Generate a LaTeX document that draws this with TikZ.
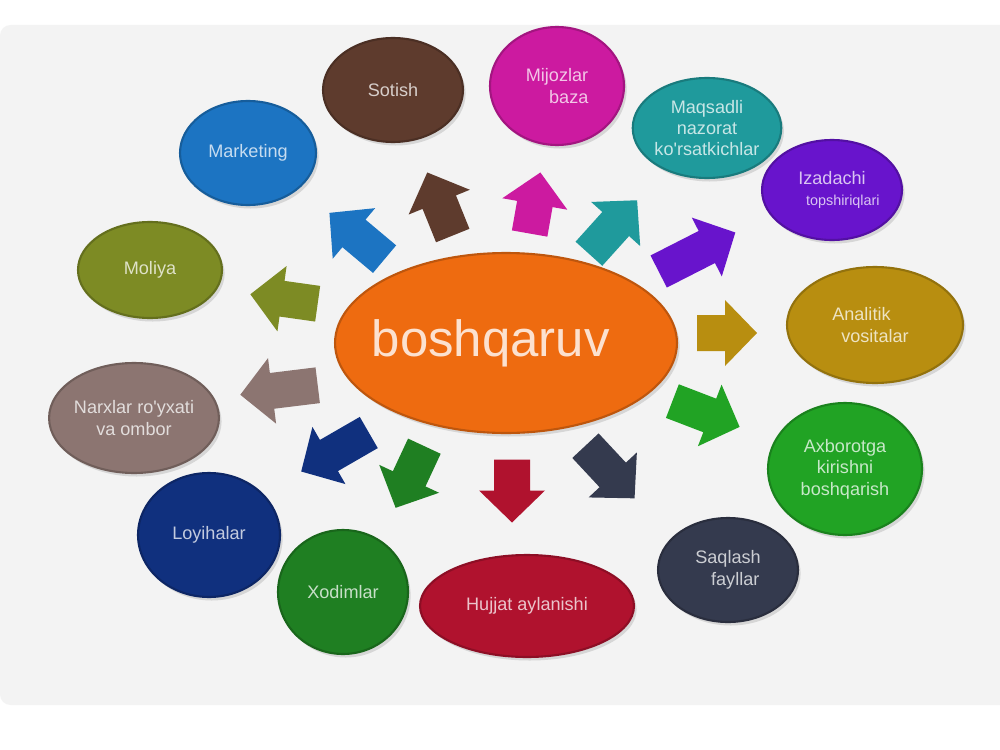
\documentclass[tikz,border=0pt]{standalone}
\usepackage{fontspec}
\setmainfont{Liberation Sans}
\usetikzlibrary{shapes.geometric,shadows}

\definecolor{bgcol}{HTML}{F3F3F3}
\definecolor{orng}{HTML}{EE6B10}
\definecolor{sotbrown}{HTML}{5E3B2D}
\definecolor{mijpink}{HTML}{CC1AA0}
\definecolor{mkblue}{HTML}{1C74C2}
\definecolor{maqteal}{HTML}{1F9A9C}
\definecolor{izpurple}{HTML}{6814CC}
\definecolor{angold}{HTML}{B88E10}
\definecolor{axgreen}{HTML}{21A324}
\definecolor{saqslate}{HTML}{343A4E}
\definecolor{hujred}{HTML}{B0122E}
\definecolor{xodgreen}{HTML}{1F7F22}
\definecolor{loynavy}{HTML}{10307E}
\definecolor{narxtaupe}{HTML}{8C7571}
\definecolor{mololive}{HTML}{7D8B24}

\tikzset{
  blob/.style={ellipse, fill=#1, draw=#1!80!black, line width=1.2pt,
    text=#1!25!white, align=center, inner sep=0pt,
    font=\fontsize{10.3}{12.2}\selectfont,
    drop shadow={opacity=0.25, shadow xshift=1.5pt, shadow yshift=-2pt}},
}

\begin{document}
\begin{tikzpicture}[x=0.02cm, y=-0.02cm]
\useasboundingbox (0,0) rectangle (1000,750);
\fill[white] (0,0) rectangle (1000,750);
\fill[bgcol, rounded corners=6pt] (0,25) rectangle (1030,705);
% arrows round the centre
\foreach \cx/\cy/\ang/\len/\col in {357/236/140/72/mkblue, 440/204/112/68/sotbrown,
    535/203/80/62/mijpink, 613/227/48/72/maqteal, 697/252/27/86/izpurple,
    727/333/0/60/angold, 706/414/-21/72/axgreen, 610/472/-47/72/saqslate,
    512/491/-90/63/hujred, 410/477/245/68/xodgreen, 335/452/210/78/loynavy,
    279/390/187/78/narxtaupe, 284/299/172/68/mololive}
  \fill[\col, shift={(\cx,\cy)}, rotate=\ang] ({-\len/2},-18) -- ({\len/2-32},-18)
    -- ({\len/2-32},-33) -- ({\len/2},0) -- ({\len/2-32},33) -- ({\len/2-32},18)
    -- ({-\len/2},18) -- cycle;
% centre
\node[blob=orng, minimum width=6.84cm, minimum height=3.6cm,
  font=\fontsize{29}{32}\selectfont, text=orng!20!white] (boshq) at (506,343) {\makebox[0pt]{boshqaruv\hspace*{0.6em}}};
% outer ring
\node[blob=sotbrown, minimum width=2.8cm, minimum height=2.08cm] (sotish) at (393,90) {Sotish};
\node[blob=mijpink, minimum width=2.68cm, minimum height=2.36cm] (mijoz) at (557,86) {Mijozlar\\ \hspace*{1.3em}baza};
\node[blob=mkblue, minimum width=2.72cm, minimum height=2.08cm] (marketing) at (248,153) {Marketing};
\node[blob=maqteal, minimum width=2.96cm, minimum height=2cm] (maqsad) at (707,128) {Maqsadli\\ nazorat\\ ko\textquotesingle rsatkichlar};
\node[blob=izpurple, minimum width=2.8cm, minimum height=2cm] (izad) at (832,190) {Izadachi\\ \hspace*{1.2em}{\fontsize{8.2}{12}\selectfont topshiriqlari}};
\node[blob=angold, minimum width=3.52cm, minimum height=2.32cm] (analitik) at (875,325) {Analitik\hspace*{1.5em}\\ vositalar};
\node[blob=axgreen, minimum width=3.08cm, minimum height=2.64cm] (axborot) at (845,469) {Axborotga\\ kirishni\hspace*{1.6em}\\ boshqarish};
\node[blob=saqslate, minimum width=2.8cm, minimum height=2.08cm] (saqlash) at (728,570) {Saqlash\\ \hspace*{0.8em}fayllar};
\node[blob=hujred, minimum width=4.28cm, minimum height=2.04cm] (hujjat) at (527,606) {Hujjat aylanishi};
\node[blob=xodgreen, minimum width=2.6cm, minimum height=2.48cm] (xodim) at (343,592) {Xodimlar};
\node[blob=loynavy, minimum width=2.84cm, minimum height=2.48cm] (loyiha) at (209,535) {Loyihalar};
\node[blob=narxtaupe, minimum width=2.84cm, minimum height=2.2cm] (narx) at (134,418) {Narxlar ro\textquotesingle yxati\\ va ombor};
\node[blob=mololive, minimum width=2.88cm, minimum height=1.92cm] (moliya) at (150,270) {Moliya};
\end{tikzpicture}
\end{document}
